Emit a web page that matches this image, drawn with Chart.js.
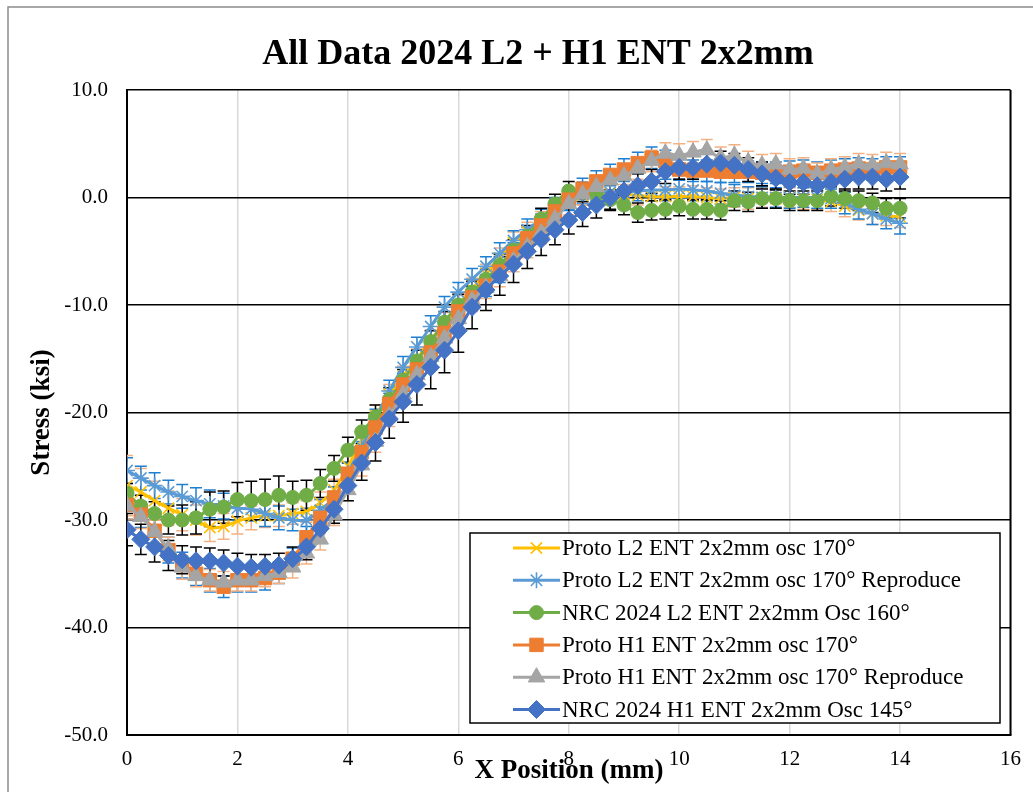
<!DOCTYPE html>
<html>
<head>
<meta charset="utf-8">
<script src="https://cdn.jsdelivr.net/npm/chart.js@4.4.1/dist/chart.umd.min.js"></script>
<style>
  html, body { margin: 0; padding: 0; background: #ffffff; }
  canvas { display: block; }
</style>
</head>
<body>
<canvas id="stressChart" width="1033" height="792"></canvas>
<script>
// Measurement positions along the weld (mm)
const xPositions = [
  0, 0.25, 0.5, 0.75, 1, 1.25, 1.5, 1.75, 2, 2.25, 2.5, 2.75, 3, 3.25, 3.5, 3.75,
  4, 4.25, 4.5, 4.75, 5, 5.25, 5.5, 5.75, 6, 6.25, 6.5, 6.75, 7, 7.25, 7.5, 7.75,
  8, 8.25, 8.5, 8.75, 9, 9.25, 9.5, 9.75, 10, 10.25, 10.5, 10.75, 11, 11.25, 11.5, 11.75,
  12, 12.25, 12.5, 12.75, 13, 13.25, 13.5, 13.75, 14
];

// Residual stress (ksi) per data set
const protoL2 = [
  -26.8, -27.4, -28.2, -28.9, -29.5, -30.0, -30.7, -30.6, -30.1, -29.8, -29.6, -29.6, -29.4, -29.2, -28.4, -27.2,
  -25.0, -22.6, -20.3, -18.3, -16.6, -15.0, -13.3, -11.6, -10.0, -8.5, -7.1, -5.6, -4.2, -3.2, -2.2, -1.2,
  -0.2, 0.2, 0.3, 0.4, 0.3, 0.2, 0.1, 0.1, 0.1, 0.1, 0.0, -0.1, 0.0, -0.1, 0.0, -0.1,
  0.0, -0.1, -0.2, -0.4, -0.8, -1.2, -1.5, -1.7, -1.8
];
const protoL2Repro = [
  -25.4, -26.1, -26.8, -27.4, -27.8, -28.2, -28.5, -28.7, -28.9, -29.0, -29.4, -29.8, -30.0, -30.0, -29.1, -27.9,
  -25.6, -23.2, -20.6, -18.0, -15.8, -13.9, -12.0, -10.2, -8.8, -7.6, -6.4, -5.2, -4.0, -3.0, -2.0, -1.0,
  -0.2, 0.4, 0.6, 0.5, 0.5, 0.6, 0.7, 0.7, 0.8, 0.7, 0.6, 0.4, 0.2, 0.1, 0.0, 0.0,
  0.0, 0.0, 0.0, -0.1, -0.5, -1.1, -1.5, -2.0, -2.4
];
const nrcL2 = [
  -27.5, -28.7, -29.4, -30.0, -30.0, -29.8, -29.0, -28.8, -28.1, -28.2, -28.1, -27.7, -27.9, -27.7, -26.6, -25.2,
  -23.5, -21.8, -20.4, -18.8, -17.0, -15.2, -13.4, -11.6, -10.0, -8.8, -7.6, -6.3, -4.9, -3.6, -2.0, -0.6,
  0.6, 0.5, 0.2, -0.2, -0.7, -1.4, -1.2, -1.1, -0.8, -1.1, -1.1, -1.2, -0.3, -0.4, -0.1, -0.1,
  -0.3, -0.3, -0.3, 0.1, -0.1, -0.3, -0.5, -1.0, -1.0
];
const protoH1 = [
  -28.6, -29.5, -31.0, -32.8, -34.2, -35.0, -35.6, -36.2, -35.6, -35.6, -35.4, -34.9, -33.6, -31.6, -29.8, -27.9,
  -25.7, -23.7, -21.4, -19.2, -17.4, -16.0, -14.4, -12.6, -10.6, -9.3, -8.2, -6.9, -5.2, -3.8, -2.6, -1.3,
  -0.2, 0.8, 1.5, 2.1, 2.6, 3.2, 3.7, 3.4, 2.6, 2.5, 2.5, 2.4, 2.4, 2.4, 2.3, 2.3,
  2.4, 2.5, 2.3, 2.5, 2.6, 2.7, 2.6, 2.8, 2.8
];
const protoH1Repro = [
  -28.7, -29.7, -31.1, -32.7, -34.4, -35.2, -35.6, -35.8, -35.6, -35.6, -35.2, -34.9, -34.4, -33.1, -31.8, -29.5,
  -27.2, -24.9, -22.7, -20.3, -18.3, -16.5, -14.8, -13.1, -11.3, -9.6, -8.4, -7.3, -5.9, -4.6, -3.3, -2.0,
  -0.6, 0.3, 1.0, 1.6, 2.0, 2.7, 3.4, 4.1, 3.9, 4.2, 4.4, 3.7, 3.9, 3.3, 3.0, 3.1,
  2.6, 2.7, 2.2, 2.6, 2.8, 3.1, 3.0, 3.2, 3.1
];
const nrcH1 = [
  -30.9, -31.8, -32.5, -33.3, -33.7, -33.8, -33.8, -34.0, -34.3, -34.4, -34.3, -34.2, -33.6, -32.5, -30.8, -29.0,
  -26.8, -24.7, -22.8, -20.6, -19.0, -17.4, -15.8, -14.2, -12.4, -10.2, -8.6, -7.3, -6.2, -5.0, -3.9, -3.0,
  -2.1, -1.4, -0.7, 0.0, 0.6, 1.1, 1.5, 2.4, 2.8, 2.8, 3.1, 3.2, 3.0, 2.6, 2.2, 1.8,
  1.4, 1.4, 1.1, 1.4, 1.7, 1.9, 1.9, 1.7, 1.9
];

// Error bar half-widths (ksi)
const errProtoL2 = [
  2.8, 2.2, 1.8, 1.6, 1.5, 1.4, 1.3, 1.2, 1.2, 1.1, 1.1, 1.0, 1.0, 1.0, 1.0, 1.0,
  0.9, 0.9, 1.0, 0.9, 0.9, 0.9, 1.0, 0.9, 0.9, 1.0, 0.9, 0.9, 1.0, 0.9, 0.9, 1.0,
  0.9, 0.9, 0.9, 1.0, 0.9, 0.9, 1.0, 0.9, 0.9, 1.0, 0.9, 0.9, 0.9, 1.0, 0.9, 0.9,
  0.9, 1.0, 0.9, 0.9, 1.0, 0.9, 1.0, 0.9, 1.0
];
const errProtoL2Repro = [
  1.2, 1.1, 1.2, 1.1, 1.1, 1.2, 1.3, 1.2, 1.1, 1.1, 1.2, 1.1, 1.0, 1.1, 1.0, 1.0,
  1.0, 1.0, 0.9, 1.0, 1.0, 0.9, 1.0, 1.0, 0.9, 1.0, 0.9, 1.0, 0.9, 1.0, 0.9, 1.0,
  0.9, 1.0, 0.9, 1.0, 1.0, 0.9, 1.0, 1.0, 0.9, 1.0, 0.9, 1.0, 1.0, 0.9, 1.0, 0.9,
  1.0, 0.9, 1.0, 0.9, 1.0, 0.9, 1.0, 0.9, 1.0
];
const errNrcL2 = [
  0.9, 1.0, 1.1, 1.3, 1.4, 1.5, 1.6, 1.5, 1.6, 1.8, 1.9, 1.8, 1.5, 1.4, 1.3, 1.2,
  1.2, 1.1, 1.1, 1.1, 1.0, 1.0, 1.0, 1.0, 1.0, 1.0, 1.0, 1.0, 1.0, 1.0, 1.0, 0.9,
  0.9, 0.9, 0.9, 0.9, 0.9, 0.9, 0.9, 0.9, 0.9, 0.9, 0.9, 0.9, 0.9, 0.9, 0.9, 0.9,
  0.9, 0.9, 0.9, 0.9, 0.9, 0.9, 0.9, 0.9, 0.9
];
const errProtoH1 = [
  1.3, 1.2, 1.2, 1.2, 1.2, 1.1, 1.1, 1.0, 1.1, 1.1, 1.1, 1.0, 1.0, 1.0, 1.0, 1.0,
  1.0, 1.0, 1.0, 1.0, 1.0, 1.0, 1.0, 1.0, 1.0, 1.0, 1.0, 1.0, 1.0, 1.0, 1.0, 1.0,
  1.0, 1.0, 1.0, 1.0, 1.0, 1.0, 1.0, 1.0, 1.0, 1.0, 1.0, 1.0, 1.0, 1.0, 1.0, 1.0,
  1.0, 1.0, 1.0, 1.0, 1.0, 1.0, 1.0, 1.0, 1.0
];
const errProtoH1Repro = [
  1.2, 1.1, 1.1, 1.1, 1.1, 1.0, 1.0, 1.0, 1.0, 1.0, 1.0, 1.0, 1.0, 1.0, 1.0, 1.0,
  1.0, 1.0, 1.0, 1.0, 1.0, 1.0, 1.0, 1.0, 1.0, 1.0, 1.0, 1.0, 1.0, 1.0, 1.0, 1.0,
  1.0, 1.0, 1.0, 1.0, 1.0, 1.0, 1.0, 1.0, 1.1, 1.0, 1.0, 1.0, 1.0, 1.0, 1.0, 1.0,
  1.0, 1.0, 1.0, 1.0, 1.0, 1.0, 1.0, 1.0, 1.0
];
const errNrcH1 = [
  1.5, 1.4, 1.4, 1.4, 1.3, 1.3, 1.2, 1.2, 1.2, 1.2, 1.1, 1.1, 1.1, 1.2, 1.3, 1.3,
  1.4, 1.6, 1.7, 1.8, 1.9, 1.9, 2.0, 2.1, 2.0, 2.0, 1.9, 1.8, 1.7, 1.6, 1.5, 1.4,
  1.3, 1.3, 1.2, 1.2, 1.1, 1.1, 1.1, 1.1, 1.1, 1.1, 1.1, 1.1, 1.1, 1.1, 1.1, 1.1,
  1.1, 1.1, 1.1, 1.1, 1.1, 1.1, 1.1, 1.1, 1.1
];

const seriesLabels = [
  'Proto L2 ENT 2x2mm osc 170\u00b0',
  'Proto L2 ENT 2x2mm osc 170\u00b0 Reproduce',
  'NRC 2024 L2 ENT 2x2mm Osc 160\u00b0',
  'Proto H1 ENT 2x2mm osc 170\u00b0',
  'Proto H1 ENT 2x2mm osc 170\u00b0 Reproduce',
  'NRC 2024 H1 ENT 2x2mm Osc 145\u00b0'
];
const seriesValues = [protoL2, protoL2Repro, nrcL2, protoH1, protoH1Repro, nrcH1];
const seriesErrors = [errProtoL2, errProtoL2Repro, errNrcL2, errProtoH1, errProtoH1Repro, errNrcH1];
const seriesColors = ['#FFC000', '#5B9BD5', '#70AD47', '#ED7D31', '#A5A5A5', '#4472C4'];
const errorColors  = ['#F4B183', '#1F7FD0', '#000000', '#1F7FD0', '#F4B183', '#000000'];
const pointStyles  = ['crossRot', 'star', 'circle', 'rect', 'triangle', 'rectRot'];
const pointRadii   = [8, 8, 7, 9.5, 9.5, 9];

const xTickValues = [0, 2, 4, 6, 8, 10, 12, 14, 16];
const yTickValues = [-50, -40, -30, -20, -10, 0, 10];

const SERIF = "'Liberation Serif', 'Times New Roman', serif";

const datasets = seriesValues.map((vals, k) => ({
  label: seriesLabels[k],
  data: xPositions.map((x, i) => ({ x: x, y: vals[i] })),
  errors: seriesErrors[k],
  errorColor: errorColors[k],
  borderColor: seriesColors[k],
  backgroundColor: seriesColors[k],
  pointBackgroundColor: seriesColors[k],
  pointBorderColor: seriesColors[k],
  pointStyle: pointStyles[k],
  pointRadius: pointRadii[k],
  pointBorderWidth: (pointStyles[k] === 'crossRot' || pointStyles[k] === 'star') ? 1.6 : 1,
  borderWidth: 3,
  tension: 0.33,
  fill: false,
  order: seriesValues.length - k
}));

// Vertical error bars with caps, drawn beneath the series
const errorBarPlugin = {
  id: 'errorBars',
  beforeDatasetsDraw(chart) {
    const ctx = chart.ctx;
    const yScale = chart.scales.y;
    const area = chart.chartArea;
    ctx.save();
    ctx.beginPath();
    ctx.rect(area.left, area.top, area.right - area.left, area.bottom - area.top);
    ctx.clip();
    chart.data.datasets.forEach((ds, k) => {
      const meta = chart.getDatasetMeta(k);
      ctx.strokeStyle = ds.errorColor;
      ctx.lineWidth = 1.5;
      meta.data.forEach((pt, i) => {
        const v = ds.data[i].y;
        const e = ds.errors[i];
        const yTop = yScale.getPixelForValue(v + e);
        const yBot = yScale.getPixelForValue(v - e);
        const x = pt.x;
        ctx.beginPath();
        ctx.moveTo(x, yTop); ctx.lineTo(x, yBot);
        ctx.moveTo(x - 6, yTop); ctx.lineTo(x + 6, yTop);
        ctx.moveTo(x - 6, yBot); ctx.lineTo(x + 6, yBot);
        ctx.stroke();
      });
    });
    ctx.restore();
  }
};

// Background, chart frame, titles and boxed legend
const decorPlugin = {
  id: 'decor',
  beforeDraw(chart) {
    const ctx = chart.ctx;
    ctx.save();
    ctx.fillStyle = '#ffffff';
    ctx.fillRect(0, 0, chart.width, chart.height);
    ctx.strokeStyle = '#8c8c8c';
    ctx.lineWidth = 1.5;
    ctx.strokeRect(8, 7, chart.width + 40, chart.height + 40);
    ctx.restore();
  },
  afterDraw(chart) {
    const ctx = chart.ctx;
    const area = chart.chartArea;
    ctx.save();

    // right edge of plot area
    ctx.strokeStyle = '#000000';
    ctx.lineWidth = 2;
    ctx.beginPath();
    ctx.moveTo(area.right, area.top);
    ctx.lineTo(area.right, area.bottom);
    ctx.stroke();

    // chart title
    ctx.fillStyle = '#000000';
    ctx.textAlign = 'center';
    ctx.textBaseline = 'middle';
    ctx.font = 'bold 36px ' + SERIF;
    ctx.fillText('All Data 2024 L2 + H1 ENT 2x2mm', 538, 55);

    // axis titles
    ctx.font = 'bold 27px ' + SERIF;
    ctx.fillText('X Position (mm)', 569, 771);
    ctx.save();
    ctx.translate(42, (area.top + area.bottom) / 2);
    ctx.rotate(-Math.PI / 2);
    ctx.fillText('Stress (ksi)', 0, 0);
    ctx.restore();

    // legend box
    const box = { x: 470, y: 533, w: 530, h: 190 };
    ctx.fillStyle = '#ffffff';
    ctx.fillRect(box.x, box.y, box.w, box.h);
    ctx.strokeStyle = '#000000';
    ctx.lineWidth = 1.5;
    ctx.strokeRect(box.x, box.y, box.w, box.h);

    chart.data.datasets.forEach((ds, k) => {
      const yRow = 548 + k * 32.3;
      ctx.strokeStyle = ds.borderColor;
      ctx.lineWidth = 3;
      ctx.beginPath();
      ctx.moveTo(513, yRow);
      ctx.lineTo(560, yRow);
      ctx.stroke();
      ctx.fillStyle = ds.borderColor;
      ctx.strokeStyle = ds.borderColor;
      ctx.lineWidth = ds.pointBorderWidth;
      Chart.helpers.drawPoint(ctx, {
        pointStyle: ds.pointStyle,
        radius: ds.pointRadius,
        rotation: 0,
        borderWidth: ds.pointBorderWidth
      }, 536.5, yRow);
      ctx.fillStyle = '#000000';
      ctx.textAlign = 'left';
      ctx.textBaseline = 'middle';
      ctx.font = '23px ' + SERIF;
      ctx.fillText(ds.label, 562, yRow + 1);
    });

    ctx.restore();
  }
};

new Chart(document.getElementById('stressChart'), {
  type: 'line',
  data: { datasets: datasets },
  options: {
    responsive: false,
    animation: false,
    devicePixelRatio: 1,
    layout: { padding: { top: 90, right: 19, left: 0, bottom: 0 } },
    plugins: {
      legend: { display: false },
      title: { display: false },
      tooltip: { enabled: false }
    },
    scales: {
      x: {
        type: 'linear',
        min: 0,
        max: 16,
        afterBuildTicks(scale) { scale.ticks = xTickValues.map(v => ({ value: v })); },
        afterFit(scale) { scale.height = 57; },
        ticks: {
          font: { family: SERIF, size: 21 },
          color: '#000000',
          padding: 12,
          maxRotation: 0,
          callback: v => String(v)
        },
        grid: { color: '#d9d9d9', lineWidth: 1.5, drawTicks: false },
        border: { color: '#000000', width: 2 }
      },
      y: {
        type: 'linear',
        min: -50,
        max: 10,
        afterBuildTicks(scale) { scale.ticks = yTickValues.map(v => ({ value: v })); },
        afterFit(scale) { scale.width = 127; },
        ticks: {
          font: { family: SERIF, size: 21 },
          color: '#000000',
          padding: 19,
          callback: v => Number(v).toFixed(1)
        },
        grid: { color: '#000000', lineWidth: 1.5, drawTicks: false },
        border: { color: '#000000', width: 2 }
      }
    }
  },
  plugins: [errorBarPlugin, decorPlugin]
});
</script>
</body>
</html>
